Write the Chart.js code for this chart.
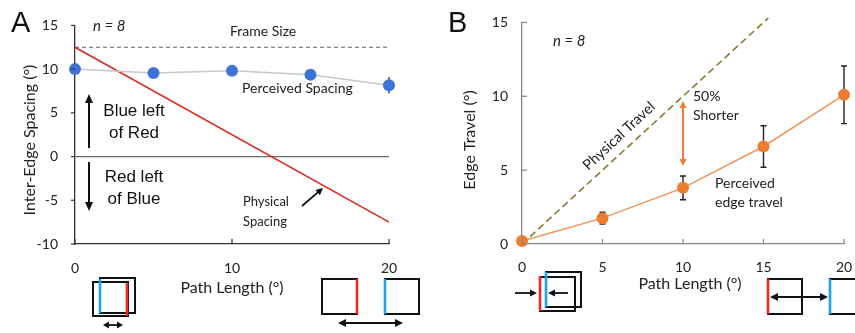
<!DOCTYPE html>
<html><head><meta charset="utf-8">
<script src="https://cdn.jsdelivr.net/npm/chart.js@4.4.0/dist/chart.umd.min.js"></script>
<style>
html,body{margin:0;padding:0;background:#fff;width:855px;height:333px;overflow:hidden}
#wa{position:absolute;left:0;top:0;width:430px;height:333px}
#wb{position:absolute;left:430px;top:0;width:425px;height:333px}
</style></head><body>
<div id="wa"><canvas id="ca" width="430" height="333"></canvas></div>
<div id="wb"><canvas id="cb" width="425" height="333"></canvas></div>
<script>
// ---------- Panel A data ----------
const pathLength = [0, 5, 10, 15, 20];
const perceivedSpacing = [10.0, 9.55, 9.8, 9.35, 8.15];
const perceivedSpacingErr = [0.15, 0.15, 0.35, 0.15, 0.95];
const physicalX = [0, 20];
const physicalSpacing = [12.5, -7.5];
const frameSize = [12.5, 12.5];
const zeroLine = [0, 0];
const xTicksA = [0, 10, 20];
const yTicksA = [-10, -5, 0, 5, 10, 15];

// ---------- Panel B data ----------
const perceivedTravel = [0.2, 1.75, 3.8, 6.6, 10.1];
const perceivedTravelErr = [0.1, 0.4, 0.8, 1.4, 1.95];
const physicalTravelX = [0, 15.3];
const physicalTravel = [0, 15.3];
const xTicksB = [0, 5, 10, 15, 20];
const yTicksB = [0, 5, 10, 15];

const LATO = 'Lato, "Open Sans", sans-serif';
const ARIAL = '"Liberation Sans", Arial, sans-serif';
const pts = (xs, ys) => xs.map((x, i) => ({x: x, y: ys[i]}));

function txt(ctx, s, x, y, font, color, align, rot) {
  ctx.save();
  ctx.font = font; ctx.fillStyle = color || '#222';
  ctx.textAlign = align || 'left'; ctx.textBaseline = 'middle';
  ctx.translate(x, y);
  if (rot) ctx.rotate(rot);
  ctx.fillText(s, 0, 0);
  ctx.restore();
}
function head(ctx, x1, y1, x2, y2, len, hw) {
  const a = Math.atan2(y2 - y1, x2 - x1);
  ctx.beginPath();
  ctx.moveTo(x2, y2);
  ctx.lineTo(x2 - len * Math.cos(a) + hw * Math.sin(a), y2 - len * Math.sin(a) - hw * Math.cos(a));
  ctx.lineTo(x2 - len * Math.cos(a) - hw * Math.sin(a), y2 - len * Math.sin(a) + hw * Math.cos(a));
  ctx.closePath(); ctx.fill();
}
function arrow(ctx, x1, y1, x2, y2, color, w, both, len, hw) {
  ctx.save();
  ctx.strokeStyle = color; ctx.fillStyle = color; ctx.lineWidth = w;
  const a = Math.atan2(y2 - y1, x2 - x1);
  const sx = both ? x1 + (len - 1) * Math.cos(a) : x1, sy = both ? y1 + (len - 1) * Math.sin(a) : y1;
  ctx.beginPath(); ctx.moveTo(sx, sy);
  ctx.lineTo(x2 - (len - 1) * Math.cos(a), y2 - (len - 1) * Math.sin(a)); ctx.stroke();
  head(ctx, x1, y1, x2, y2, len, hw);
  if (both) head(ctx, x2, y2, x1, y1, len, hw);
  ctx.restore();
}
function sq(ctx, x, y, w, h) {
  ctx.save(); ctx.strokeStyle = '#111'; ctx.lineWidth = 2;
  ctx.strokeRect(x, y, w, h); ctx.restore();
}
function vline(ctx, x, y1, y2, color) {
  ctx.save(); ctx.strokeStyle = color; ctx.lineWidth = 2.6;
  ctx.beginPath(); ctx.moveTo(x, y1); ctx.lineTo(x, y2); ctx.stroke(); ctx.restore();
}
function fitX(s) { s.height = 89; s.paddingLeft = 0; s.paddingRight = 0; }

// ---------- Panel A plugin ----------
const plugA = {
  id: 'plugA',
  beforeDatasetsDraw(chart) {
    const {ctx, scales: {x, y}} = chart;
    ctx.save(); ctx.strokeStyle = '#333'; ctx.lineWidth = 1.3;
    pathLength.forEach((v, i) => {
      const px = x.getPixelForValue(v);
      ctx.beginPath();
      ctx.moveTo(px, y.getPixelForValue(perceivedSpacing[i] + perceivedSpacingErr[i]));
      ctx.lineTo(px, y.getPixelForValue(perceivedSpacing[i] - perceivedSpacingErr[i]));
      ctx.stroke();
    });
    ctx.restore();
  },
  afterDraw(chart) {
    const {ctx, scales: {x, y}, chartArea: ca} = chart;
    ctx.save(); ctx.strokeStyle = '#333'; ctx.lineWidth = 1.2;
    xTicksA.forEach(v => { const px = x.getPixelForValue(v); ctx.beginPath(); ctx.moveTo(px, ca.bottom); ctx.lineTo(px, ca.bottom - 5); ctx.stroke(); });
    yTicksA.forEach(v => { const py = y.getPixelForValue(v); ctx.beginPath(); ctx.moveTo(ca.left - 4, py); ctx.lineTo(ca.left, py); ctx.stroke(); });
    ctx.restore();
    txt(ctx, 'A', 11, 24, '29px ' + ARIAL, '#111', 'left');
    txt(ctx, 'Inter-Edge Spacing (°)', 30, 140, '16px ' + LATO, '#222', 'center', -Math.PI / 2);
    txt(ctx, 'Path Length (°)', 232, 288, '16px ' + LATO, '#222', 'center');
    txt(ctx, 'n = 8', 93, 26, 'italic 15px ' + LATO, '#222', 'left');
    txt(ctx, 'Frame Size', 230, 31, '14px ' + LATO, '#222', 'left');
    txt(ctx, 'Perceived Spacing', 242, 88, '14px ' + LATO, '#222', 'left');
    txt(ctx, 'Blue left', 134, 111, '17px ' + ARIAL, '#111', 'center');
    txt(ctx, 'of Red', 134, 133, '17px ' + ARIAL, '#111', 'center');
    txt(ctx, 'Red left', 134, 177, '17px ' + ARIAL, '#111', 'center');
    txt(ctx, 'of Blue', 134, 199, '17px ' + ARIAL, '#111', 'center');
    arrow(ctx, 89, 148, 89, 94, '#111', 2, false, 9, 4);
    arrow(ctx, 89, 162, 89, 211, '#111', 2, false, 9, 4);
    txt(ctx, 'Physical', 243, 202, '13px ' + LATO, '#222', 'left');
    txt(ctx, 'Spacing', 243, 222, '13px ' + LATO, '#222', 'left');
    arrow(ctx, 302, 206, 323, 188, '#111', 1.8, false, 7, 3.5);
    sq(ctx, 100, 278, 35, 35); sq(ctx, 93, 282, 35, 34);
    vline(ctx, 100, 279, 313, '#1ba6ea'); vline(ctx, 127, 283, 316, '#ee2a1c');
    arrow(ctx, 103, 325, 123, 325, '#111', 1.8, true, 6, 3.5);
    sq(ctx, 322, 279, 35, 35); vline(ctx, 357, 279, 314, '#ee2a1c');
    sq(ctx, 385, 279, 34, 35); vline(ctx, 385, 279, 314, '#1ba6ea');
    arrow(ctx, 338, 323, 403, 323, '#111', 1.8, true, 8, 4);
  }
};

new Chart(document.getElementById('ca'), {
  type: 'line',
  data: {datasets: [
    {data: pts(pathLength, perceivedSpacing), borderColor: '#c8c8c8', borderWidth: 1.5, pointRadius: 6,
     pointBackgroundColor: '#3d72d6', pointBorderWidth: 0, order: 1, clip: false},
    {data: pts(physicalX, physicalSpacing), borderColor: '#d92a20', borderWidth: 1.6, pointRadius: 0, order: 2, clip: false},
    {data: pts(physicalX, frameSize), borderColor: '#666', borderWidth: 1, borderDash: [4, 3], pointRadius: 0, order: 3},
    {data: pts(physicalX, zeroLine), borderColor: '#6a6a6a', borderWidth: 1.2, pointRadius: 0, order: 4}
  ]},
  options: {
    responsive: false, animation: false, devicePixelRatio: 1,
    layout: {padding: {left: 0, right: 41, top: 17, bottom: 0}},
    plugins: {legend: {display: false}, tooltip: {enabled: false}},
    scales: {
      x: {type: 'linear', min: 0, max: 20,
        afterBuildTicks: s => { s.ticks = xTicksA.map(v => ({value: v})); },
        afterFit: fitX,
        grid: {display: false, drawTicks: false},
        border: {display: true, color: '#333', width: 1.3},
        ticks: {padding: 16, color: '#222', font: {family: LATO, size: 14}}},
      y: {type: 'linear', min: -10, max: 15,
        afterBuildTicks: s => { s.ticks = yTicksA.map(v => ({value: v})); },
        afterFit: s => { s.width = 75; },
        grid: {display: false, drawTicks: false},
        border: {display: true, color: '#333', width: 1.3},
        ticks: {padding: 17, color: '#222', font: {family: LATO, size: 14}}}
    }
  },
  plugins: [plugA]
});

// ---------- Panel B plugin ----------
const OX = 430;
const plugB = {
  id: 'plugB',
  beforeDatasetsDraw(chart) {
    const {ctx, scales: {x, y}} = chart;
    ctx.save(); ctx.strokeStyle = '#222'; ctx.lineWidth = 1.4;
    pathLength.forEach((v, i) => {
      if (perceivedTravelErr[i] < 0.2) return;
      const px = x.getPixelForValue(v);
      const y1 = y.getPixelForValue(perceivedTravel[i] + perceivedTravelErr[i]);
      const y2 = y.getPixelForValue(perceivedTravel[i] - perceivedTravelErr[i]);
      ctx.beginPath(); ctx.moveTo(px, y1); ctx.lineTo(px, y2);
      ctx.moveTo(px - 3, y1); ctx.lineTo(px + 3, y1);
      ctx.moveTo(px - 3, y2); ctx.lineTo(px + 3, y2);
      ctx.stroke();
    });
    ctx.restore();
  },
  afterDraw(chart) {
    const {ctx, scales: {x, y}, chartArea: ca} = chart;
    ctx.save(); ctx.strokeStyle = '#888'; ctx.lineWidth = 1.2;
    xTicksB.forEach(v => { const px = x.getPixelForValue(v); ctx.beginPath(); ctx.moveTo(px, ca.bottom); ctx.lineTo(px, ca.bottom - 5); ctx.stroke(); });
    yTicksB.forEach(v => { const py = y.getPixelForValue(v); ctx.beginPath(); ctx.moveTo(ca.left, py); ctx.lineTo(ca.left + 5, py); ctx.stroke(); });
    ctx.restore();
    txt(ctx, 'B', 448 - OX, 24, '29px ' + ARIAL, '#111', 'left');
    txt(ctx, 'Edge Travel (°)', 470 - OX, 140, '16px ' + LATO, '#222', 'center', -Math.PI / 2);
    txt(ctx, 'Path Length (°)', 690 - OX, 284, '16px ' + LATO, '#222', 'center');
    txt(ctx, 'n = 8', 553 - OX, 41, 'italic 15px ' + LATO, '#222', 'left');
    txt(ctx, 'Physical Travel', 619 - OX, 136, '14.5px ' + LATO, '#222', 'center', -0.75);
    txt(ctx, '50%', 693 - OX, 96, '14px ' + LATO, '#222', 'left');
    txt(ctx, 'Shorter', 693 - OX, 115, '14px ' + LATO, '#222', 'left');
    arrow(ctx, 683 - OX, 101, 683 - OX, 166, '#f07a3a', 2, true, 7, 3.5);
    txt(ctx, 'Perceived', 715 - OX, 183, '14px ' + LATO, '#222', 'left');
    txt(ctx, 'edge travel', 715 - OX, 202, '14px ' + LATO, '#222', 'left');
    sq(ctx, 546 - OX, 272, 35, 35); sq(ctx, 540 - OX, 277, 35, 34);
    vline(ctx, 546 - OX, 272, 307, '#1ba6ea'); vline(ctx, 540 - OX, 276, 311, '#ee2a1c');
    arrow(ctx, 515 - OX, 293, 537 - OX, 293, '#111', 1.8, false, 7, 3.5);
    arrow(ctx, 568 - OX, 293, 548 - OX, 293, '#111', 1.8, false, 7, 3.5);
    sq(ctx, 768 - OX, 279, 34, 35); vline(ctx, 768 - OX, 279, 314, '#ee2a1c');
    sq(ctx, 830 - OX, 279, 40, 35); vline(ctx, 830 - OX, 279, 314, '#1ba6ea');
    arrow(ctx, 770 - OX, 297, 828 - OX, 297, '#111', 1.8, true, 8, 4);
  }
};

new Chart(document.getElementById('cb'), {
  type: 'line',
  data: {datasets: [
    {data: pts(pathLength, perceivedTravel), borderColor: '#f39358', borderWidth: 1.5, pointRadius: 6,
     pointBackgroundColor: '#ed7d31', pointBorderWidth: 0, order: 1, clip: false},
    {data: pts(physicalTravelX, physicalTravel), borderColor: '#8c7a30', borderWidth: 1.6, borderDash: [7, 4], pointRadius: 0, order: 2, clip: false}
  ]},
  options: {
    responsive: false, animation: false, devicePixelRatio: 1,
    layout: {padding: {left: 0, right: 11, top: 17, bottom: 0}},
    plugins: {legend: {display: false}, tooltip: {enabled: false}},
    scales: {
      x: {type: 'linear', min: 0, max: 20,
        afterBuildTicks: s => { s.ticks = xTicksB.map(v => ({value: v})); },
        afterFit: fitX,
        grid: {display: false, drawTicks: false},
        border: {display: true, color: '#888', width: 1.3},
        ticks: {padding: 15, color: '#222', font: {family: LATO, size: 14}}},
      y: {type: 'linear', min: 0, max: 15,
        afterBuildTicks: s => { s.ticks = yTicksB.map(v => ({value: v})); },
        afterFit: s => { s.width = 92; },
        grid: {display: false, drawTicks: false},
        border: {display: true, color: '#888', width: 1.3},
        ticks: {padding: 14, color: '#222', font: {family: LATO, size: 14}}}
    }
  },
  plugins: [plugB]
});
</script>
</body></html>
